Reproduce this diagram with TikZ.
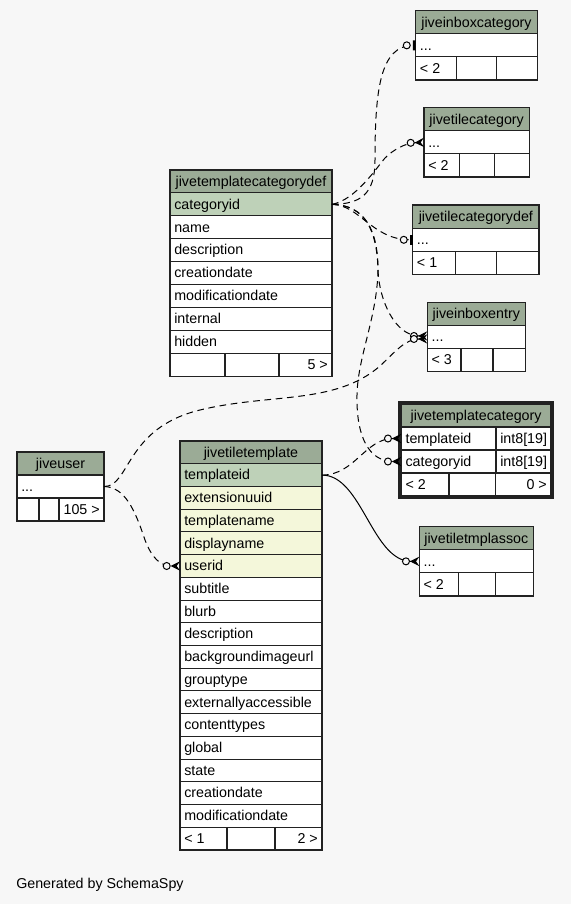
\documentclass[tikz,border=0pt]{standalone}
\usepackage{fontspec}
\setmainfont{Liberation Sans}
\usetikzlibrary{arrows.meta}
\definecolor{bgcol}{HTML}{F7F7F7}
\definecolor{headcol}{HTML}{9BAB96}
\definecolor{pkcol}{HTML}{BED1B8}
\definecolor{idxcol}{HTML}{F4F7DA}
\definecolor{linecol}{HTML}{222222}
\tikzset{
  cellbox/.style={draw=linecol, line width=0.8pt, fill=white, anchor=north west, inner sep=0pt, outer sep=0pt},
  celltext/.style={inner sep=0pt, font=\fontsize{10.7}{12}\selectfont, text=black, text height=8.8pt, text depth=1.6pt},
  fk/.style={draw=black, line width=0.75pt, dash pattern=on 5pt off 3.5pt},
  solidfk/.style={draw=black, line width=0.75pt},
  zmany/.style={-{Circle[open,length=6pt,width=6pt,fill=bgcol,line width=0.75pt] Stealth[reversed,length=7pt,width=7pt,inset=2.5pt]}},
  zone/.style={-{Circle[open,length=6pt,width=6pt,fill=bgcol,line width=0.75pt,sep=1.5pt] Bar[width=7.5pt,line width=2.2pt]}}
}
\newcommand\tblhead[6]{%
  \node[cellbox, fill=headcol, minimum width=#4*0.75pt, minimum height=#5*0.75pt] (#1) at (#2,#3) {};
  \node[celltext] (#1-title) at (#1.center) {#6};}
\newcommand\tblrow[7]{%
  \node[cellbox, fill=#6, minimum width=#4*0.75pt, minimum height=#5*0.75pt] (#1) at (#2,#3) {};
  \node[celltext, anchor=west] (#1-text) at ([xshift=3pt]#1.west) {#7};}
\newcommand\tblfoot[9]{%
  \node[cellbox, minimum width={(#5-#2)*0.75pt}, minimum height=#4*0.75pt] (#1-a) at (#2,#3) {};
  \node[cellbox, minimum width={(#6-#5)*0.75pt}, minimum height=#4*0.75pt] (#1-b) at (#5,#3) {};
  \node[cellbox, minimum width={(#7-#6)*0.75pt}, minimum height=#4*0.75pt] (#1-c) at (#6,#3) {};
  \node[celltext, anchor=west] (#1-at) at ([xshift=3pt]#1-a.west) {#8};
  \node[celltext, anchor=east] (#1-ct) at ([xshift=-3pt]#1-c.east) {#9};}
\begin{document}
\begin{tikzpicture}[x=0.75pt, y=-0.75pt]
\useasboundingbox (0,0) rectangle (571,904);
\fill[bgcol] (0,0) rectangle (571,904);

% jivetemplatecategorydef
\tblhead{tcd}{170}{170}{162}{22.9}{jivetemplatecategorydef}
\foreach \t/\f [count=\i] in {categoryid/pkcol,name/white,description/white,creationdate/white,modificationdate/white,internal/white,hidden/white}
  {\tblrow{tcd-\i}{170}{170+\i*22.9}{162}{22.9}{\f}{\t}}
\tblfoot{tcd-f}{170}{170+8*22.9}{22.9}{225}{279}{332}{}{5 >}

% jivetiletemplate
\tblhead{ttt}{180}{441}{142}{22.72}{jivetiletemplate}
\foreach \t/\f [count=\i] in {templateid/pkcol,extensionuuid/idxcol,templatename/idxcol,displayname/idxcol,userid/idxcol,subtitle/white,blurb/white,description/white,backgroundimageurl/white,grouptype/white,externallyaccessible/white,contenttypes/white,global/white,state/white,creationdate/white,modificationdate/white}
  {\tblrow{ttt-\i}{180}{441+\i*22.72}{142}{22.72}{\f}{\t}}
\tblfoot{ttt-f}{180}{441+17*22.72}{22.72}{227}{275}{322}{< 1}{2 >}

% jiveuser
\tblhead{ju}{17}{452}{87}{23}{jiveuser}
\tblrow{ju-1}{17}{475}{87}{23}{white}{...}
\tblfoot{ju-f}{17}{498}{23}{39}{59}{104}{}{105 >}

% jiveinboxcategory
\tblhead{jibc}{415.7}{10.7}{121.6}{23.1}{jiveinboxcategory}
\tblrow{jibc-1}{415.7}{33.8}{121.6}{23.1}{white}{...}
\tblfoot{jibc-f}{415.7}{56.9}{23.1}{456.7}{496.7}{537.3}{< 2}{}

% jivetilecategory
\tblhead{jtc}{424}{107.7}{105.3}{23.1}{jivetilecategory}
\tblrow{jtc-1}{424}{130.8}{105.3}{23.1}{white}{...}
\tblfoot{jtc-f}{424}{153.9}{23.1}{459.3}{494.3}{529.3}{< 2}{}

% jivetilecategorydef
\tblhead{jtcd}{412.7}{205}{126.3}{23.2}{jivetilecategorydef}
\tblrow{jtcd-1}{412.7}{228.2}{126.3}{23.2}{white}{...}
\tblfoot{jtcd-f}{412.7}{251.4}{23.2}{455.7}{496.7}{539}{< 1}{}

% jiveinboxentry
\tblhead{jibe}{427.3}{302.3}{98}{23.1}{jiveinboxentry}
\tblrow{jibe-1}{427.3}{325.4}{98}{23.1}{white}{...}
\tblfoot{jibe-f}{427.3}{348.5}{23.1}{461}{493}{525.3}{< 3}{}

% jivetemplatecategory (selected)
\draw[line width=2.25pt, draw=linecol] (399.5,402.5) rectangle (552.5,497.3);
\tblhead{jtmc}{401.3}{404}{149.7}{23}{jivetemplatecategory}
\tblrow{jtmc-1}{401.3}{427}{94.7}{23}{white}{templateid}
\tblrow{jtmc-1t}{496}{427}{55}{23}{white}{int8[19]}
\tblrow{jtmc-2}{401.3}{450}{94.7}{23}{white}{categoryid}
\tblrow{jtmc-2t}{496}{450}{55}{23}{white}{int8[19]}
\tblfoot{jtmc-f}{401.3}{473}{23}{449}{495.7}{551}{< 2}{0 >}

% jivetiletmplassoc
\tblhead{jtta}{419.3}{526.7}{114}{23.1}{jivetiletmplassoc}
\tblrow{jtta-1}{419.3}{549.8}{114}{23.1}{white}{...}
\tblfoot{jtta-f}{419.3}{572.9}{23.1}{458.3}{495.7}{533.3}{< 2}{}

% waypoints
\coordinate (wa) at (375,160);
\coordinate (wb) at (385,158);
\coordinate (wd) at (378,270);
\coordinate (we) at (357,400);
\coordinate (wf1) at (200,410);
\coordinate (wf2) at (380,366);
\coordinate (wg) at (145,540);

% connectors
\draw[fk, zone] (tcd-1.east) .. controls (360,204) and (375,195) .. (wa) .. controls (375,90) and (380,45.3) .. (jibc-1.west);
\draw[fk, zmany] (tcd-1.east) .. controls (355,200) and (375,170) .. (wb) .. controls (393,150) and (405,143) .. (jtc-1.west);
\draw[fk, zone] (tcd-1.east) .. controls (360,205) and (372,239.8) .. (jtcd-1.west);
\draw[fk, zmany] (tcd-1.east) .. controls (365,205) and (377,230) .. (wd) .. controls (379,300) and (395,336) .. ([yshift=0.75pt]jibe-1.west);
\draw[fk, zmany] (tcd-1.east) .. controls (365,205) and (378,230) .. (wd) .. controls (377,320) and (356,360) .. (we) .. controls (357,435) and (368,461.5) .. (jtmc-2.west);
\draw[fk, zmany] (ju-1.east) .. controls (130,487) and (125,428) .. (wf1) .. controls (270,393) and (335,405) .. (wf2) .. controls (395,352) and (405,339) .. ([yshift=-1.5pt]jibe-1.west);
\draw[fk, zmany] (ju-1.east) .. controls (125,487) and (135,510) .. (wg) .. controls (152,558) and (160,566) .. (ttt-5.west);
\draw[fk, zmany] (ttt-1.east) .. controls (355,475) and (365,438.5) .. (jtmc-1.west);
\draw[solidfk, zmany] (ttt-1.east) .. controls (362,475) and (372,561.35) .. (jtta-1.west);

\node[celltext, anchor=west] (gen) at (16,884) {Generated by SchemaSpy};
\end{tikzpicture}
\end{document}
